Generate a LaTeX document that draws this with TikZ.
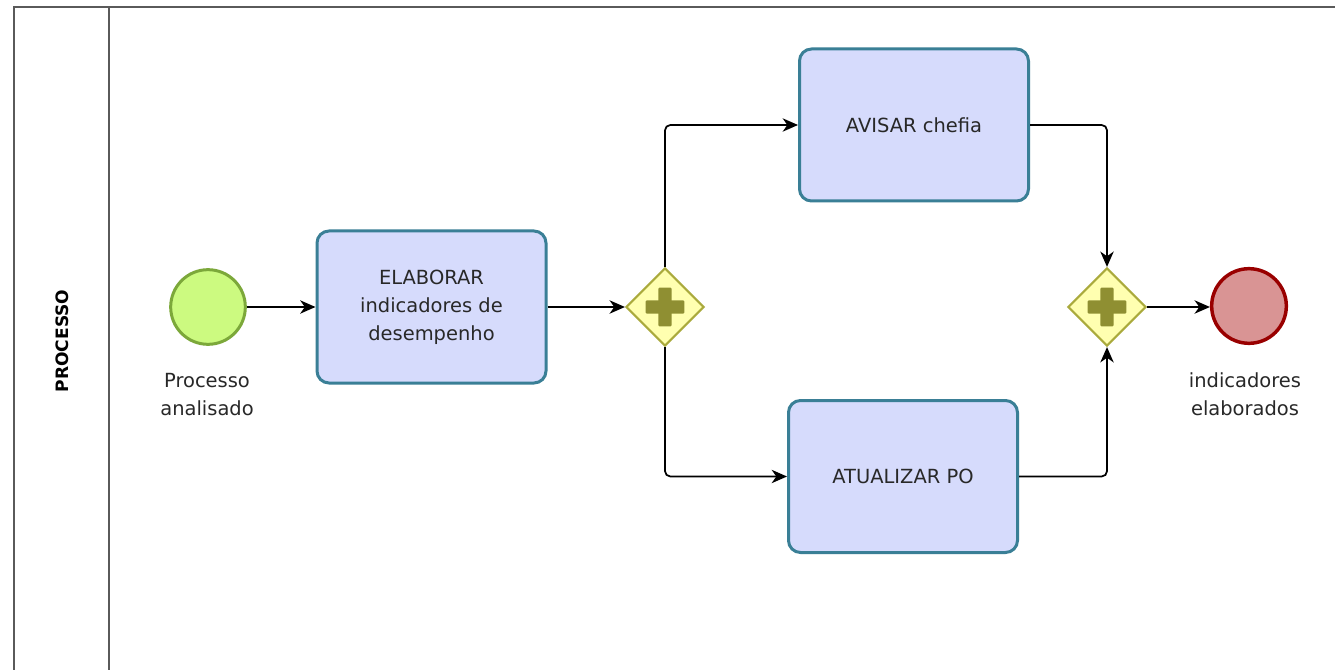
\documentclass[tikz,border=0pt]{standalone}
\usepackage{fontspec}
\setmainfont{DejaVu Sans}
\usetikzlibrary{arrows.meta,shapes.geometric}
\definecolor{taskfill}{RGB}{214,219,252}
\definecolor{taskline}{RGB}{58,127,150}
\definecolor{startfill}{RGB}{204,250,128}
\definecolor{startline}{RGB}{124,168,58}
\definecolor{gwfill}{RGB}{255,255,176}
\definecolor{gwline}{RGB}{170,170,60}
\definecolor{gwplus}{RGB}{143,143,50}
\definecolor{endfill}{RGB}{217,148,148}
\definecolor{endline}{RGB}{153,0,0}
\definecolor{poolline}{RGB}{90,90,90}
\definecolor{txt}{RGB}{40,40,40}
\tikzset{
  taskbox/.style={draw=taskline,fill=taskfill,line width=2.25pt,rounded corners=9pt,
    minimum width=171.75pt,minimum height=114pt,align=center,inner sep=0pt,
    font=\fontsize{14.6}{21}\selectfont,text=txt},
  startev/.style={circle,draw=startline,fill=startfill,line width=2.25pt,minimum size=56pt,inner sep=0pt},
  endev/.style={circle,draw=endline,fill=endfill,line width=2.6pt,minimum size=56pt,inner sep=0pt},
  gateway/.style={diamond,draw=gwline,fill=gwfill,line width=1.6pt,minimum width=58.5pt,minimum height=58.5pt,inner sep=0pt},
  evlabel/.style={align=center,font=\fontsize{14.6}{21}\selectfont,text=txt},
  flow/.style={draw=black,line width=1.3pt,-{Stealth[length=11.5pt,width=10pt,inset=3.5pt]},rounded corners=4pt},
  pool/.style={draw=poolline,line width=1.6pt}
}
\newcommand{\gwplus}[1]{%
  \fill[gwplus,rounded corners=0.8pt] ([xshift=-14.5pt,yshift=-5pt]#1.center) rectangle ([xshift=14.5pt,yshift=5pt]#1.center);
  \fill[gwplus,rounded corners=0.8pt] ([xshift=-5pt,yshift=-14.5pt]#1.center) rectangle ([xshift=5pt,yshift=14.5pt]#1.center);}
\begin{document}
\begin{tikzpicture}[x=0.75pt,y=-0.75pt]
\useasboundingbox (0,0) rectangle (1335,670);
\fill[white] (0,0) rectangle (1335,670);
% pool
\draw[pool] (14,670) -- (14,7) -- (1335,7);
\draw[pool] (109,7) -- (109,670);
\node[rotate=90,font=\bfseries\fontsize{12.8}{15}\selectfont,text=black] (lane) at (62,341) {PROCESSO};
% nodes
\node[startev] (start) at (208,307) {};
\node[evlabel] (startlbl) at (207,395) {Processo\\analisado};
\node[taskbox] (t1) at (431.5,307) {ELABORAR\\indicadores de\\desempenho};
\node[gateway] (g1) at (665,307) {};
\gwplus{g1}
\node[taskbox] (t2) at (914,125) {AVISAR chefia};
\node[taskbox] (t3) at (903,476.5) {ATUALIZAR PO};
\node[gateway] (g2) at (1107,307) {};
\gwplus{g2}
\node[endev] (end) at (1249,306) {};
\node[evlabel] (endlbl) at (1245,394) {indicadores\\elaborados};
% flows
\draw[flow] (start) -- (t1);
\draw[flow] (t1.east) -- (g1.west);
\draw[flow] (g1.north) |- (t2.west);
\draw[flow] (g1.south) |- (t3.west);
\draw[flow] (t2.east) -| (g2.north);
\draw[flow] (t3.east) -| (g2.south);
\draw[flow] (g2.east) -- (g2.east -| end.west);
\end{tikzpicture}
\end{document}
